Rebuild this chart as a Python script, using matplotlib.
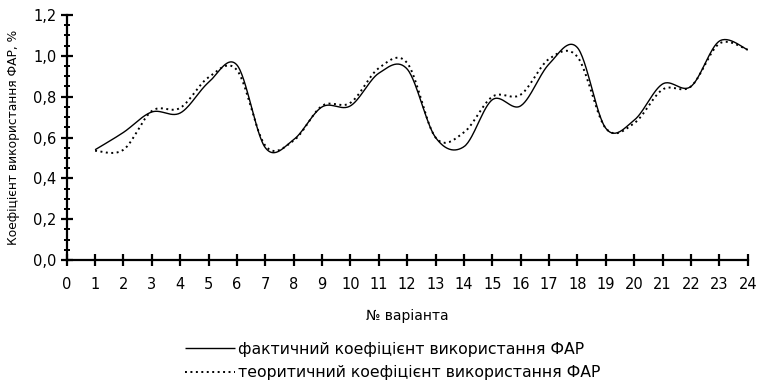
import numpy as np
import matplotlib
matplotlib.use("Agg")
import matplotlib.pyplot as plt
from matplotlib.ticker import MultipleLocator, FuncFormatter

plt.rcParams['font.family'] = ['DejaVu Sans']

variants = list(range(1, 25))
actual = [0.54, 0.625, 0.725, 0.72, 0.87, 0.955, 0.55, 0.59, 0.75, 0.755,
          0.915, 0.935, 0.60, 0.555, 0.785, 0.755, 0.96, 1.04, 0.645, 0.685,
          0.862, 0.85, 1.072, 1.03]
theoretical = [0.535, 0.54, 0.73, 0.745, 0.895, 0.93, 0.56, 0.585, 0.755, 0.77,
               0.94, 0.965, 0.60, 0.625, 0.80, 0.81, 0.985, 0.995, 0.645, 0.67,
               0.835, 0.85, 1.06, 1.03]

label_actual = "фактичний коефіцієнт використання ФАР"
label_theor = "теоритичний коефіцієнт використання ФАР"


def smooth_curve(ax, xs, ys, n=30):
    """Bezier smoothing through the points, computed in display space."""
    pts = ax.transData.transform(np.column_stack([xs, ys]))
    out = [pts[0]]
    m = len(pts)
    for i in range(m - 1):
        p0 = pts[i - 1] if i > 0 else pts[i]
        p1 = pts[i]
        p2 = pts[i + 1]
        p3 = pts[i + 2] if i + 2 < m else pts[i + 1]
        c1 = p1 + (p2 - p0) / 6.0
        c2 = p2 - (p3 - p1) / 6.0
        t = np.linspace(0, 1, n)[1:, None]
        seg = ((1 - t) ** 3) * p1 + 3 * ((1 - t) ** 2) * t * c1 \
            + 3 * (1 - t) * t ** 2 * c2 + t ** 3 * p2
        out.extend(seg)
    out = np.array(out)
    return ax.transData.inverted().transform(out)


fig = plt.figure(figsize=(7.58, 3.82), dpi=100)
ax = fig.add_axes([0.088, 0.3194, 0.8984, 0.6413])
ax.set_xlim(0, 24)
ax.set_ylim(0, 1.2)

sa = smooth_curve(ax, variants, actual)
st = smooth_curve(ax, variants, theoretical)
ax.plot(sa[:, 0], sa[:, 1], color='black', lw=1.0, label=label_actual,
        solid_capstyle='butt')
ax.plot(st[:, 0], st[:, 1], color='black', lw=1.4, linestyle=(0, (1, 1.8)),
        label=label_theor)

ax.xaxis.set_major_locator(MultipleLocator(1))
ax.yaxis.set_major_locator(MultipleLocator(0.2))
ax.yaxis.set_minor_locator(MultipleLocator(0.05))
ax.yaxis.set_major_formatter(FuncFormatter(lambda v, p: f"{v:.1f}".replace('.', ',')))

for s in ['top', 'right']:
    ax.spines[s].set_visible(False)
for s in ['left', 'bottom']:
    ax.spines[s].set_linewidth(1.6)

ax.tick_params(axis='both', which='major', direction='inout', length=9,
               width=1.6, labelsize=10.5)
ax.tick_params(axis='x', which='major', pad=8)
ax.tick_params(axis='y', which='major', pad=3)
ax.tick_params(axis='y', which='minor', direction='inout', length=5, width=1.4)

ax.set_xlabel("№ варіанта", fontsize=10, labelpad=12)
ax.set_ylabel("Коефіцієнт використання ФАР, %", fontsize=8.8, labelpad=9)

fig.legend(loc='lower center', bbox_to_anchor=(0.518, 0.0), frameon=False,
           fontsize=11.3, handlelength=3.2, handletextpad=0.15, labelspacing=0.55,
           borderaxespad=0.0, borderpad=0.1)

fig.savefig("out.png", dpi=100)
